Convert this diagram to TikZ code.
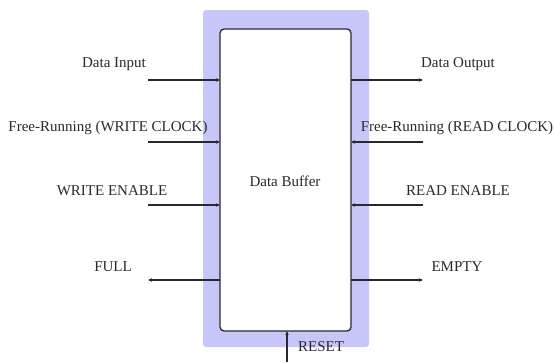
\documentclass[tikz,border=0pt]{standalone}
\usepackage{fontspec}
\setmainfont{Liberation Serif}
\usetikzlibrary{arrows.meta}
\definecolor{frame}{RGB}{198,198,248}
\definecolor{ink}{RGB}{40,40,48}
\begin{document}
\begin{tikzpicture}[x=1pt,y=-1pt,
  lbl/.style={font=\fontsize{15}{17}\selectfont, text=ink, inner sep=0pt},
  wire/.style={line width=1.1pt, draw=ink, -{Stealth[length=4pt,width=3.5pt]}},
  bufbox/.style={draw=ink, rounded corners=4pt, line width=1.3pt, fill=white,
    minimum width=131pt, minimum height=302pt, inner sep=0pt, outer sep=0pt},
]
\useasboundingbox (0,0) rectangle (555,362);
% lavender frame behind the buffer
\fill[frame, rounded corners=3pt] (203,10) rectangle (369,347);
\node[bufbox] (buf) at (285.5,180) {};
\node[lbl] (title) at (285,181) {Data Buffer};

% free ends of the signal wires
\coordinate (l1) at (148,80);
\coordinate (l2) at (148,142);
\coordinate (l3) at (148,205);
\coordinate (l4) at (148,280);
\coordinate (r1) at (423,80);
\coordinate (r2) at (423,142);
\coordinate (r3) at (423,205);
\coordinate (r4) at (423,280);
\coordinate (rs) at (287,362);

% left side
\draw[wire] (l1) -- (buf.west |- l1);
\draw[wire] (l2) -- (buf.west |- l2);
\draw[wire] (l3) -- (buf.west |- l3);
\draw[wire] (buf.west |- l4) -- (l4);
% right side
\draw[wire] (buf.east |- r1) -- (r1);
\draw[wire] (r2) -- (buf.east |- r2);
\draw[wire] (r3) -- (buf.east |- r3);
\draw[wire] (buf.east |- r4) -- (r4);
% reset
\draw[wire] (rs) -- (buf.south -| rs);

% labels
\node[lbl] (tl1) at (114,64) {Data Input};
\node[lbl] (tl2) at (108,128) {Free-Running (WRITE CLOCK)};
\node[lbl] (tl3) at (112,191) {WRITE ENABLE};
\node[lbl] (tl4) at (113,267) {FULL};
\node[lbl] (tr1) at (458,64) {Data Output};
\node[lbl] (tr2) at (457,128) {Free-Running (READ CLOCK)};
\node[lbl] (tr3) at (458,191) {READ ENABLE};
\node[lbl] (tr4) at (457,267) {EMPTY};
\node[lbl] (trs) at (321,347) {RESET};
\end{tikzpicture}
\end{document}
